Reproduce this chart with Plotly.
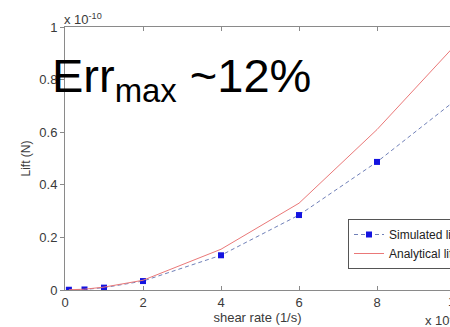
import plotly.graph_objects as go

# Shear rate (x 10^4 1/s) and lift force (x 10^-10 N)
shear_rate = [0.1, 0.5, 1, 2, 4, 6, 8, 10]
lift_simulated = [0.001, 0.002, 0.009, 0.034, 0.132, 0.285, 0.487, 0.72]
lift_analytical = [0.001, 0.003, 0.011, 0.037, 0.155, 0.33, 0.61, 0.93]

x_ticks = [0, 2, 4, 6, 8, 10]
y_ticks = [0, 0.2, 0.4, 0.6, 0.8, 1]
y_tick_text = ["0", "0.2", "0.4", "0.6", "0.8", "1"]

W, H = 450, 327
ML, MT, MB = 65, 27, 37
PLOT_W = W - ML
PLOT_H = H - MT - MB
X_PER_UNIT = 39.0


def px_x(px):
    return (px - ML) / PLOT_W


def px_y(py):
    return (H - MB - py) / PLOT_H


FONT = "Liberation Sans, Arial, sans-serif"
AXIS_GREY = "#8a8a8a"
TEXT_GREY = "#3a3a3a"

fig = go.Figure()
fig.add_trace(go.Scatter(
    x=shear_rate, y=lift_simulated, mode="lines+markers", name="Simulated lift",
    line=dict(color="#7080b8", width=1, dash="4px,3px"),
    marker=dict(symbol="square", size=6, color="#1414e0"),
))
fig.add_trace(go.Scatter(
    x=shear_rate, y=lift_analytical, mode="lines", name="Analytical lift",
    line=dict(color="#ea7878", width=1),
))

fig.update_layout(
    width=W, height=H,
    margin=dict(l=ML, r=0, t=MT, b=MB, autoexpand=False),
    paper_bgcolor="white", plot_bgcolor="white",
    font=dict(family=FONT, size=12, color=TEXT_GREY),
    showlegend=True,
    legend=dict(
        x=px_x(348), y=px_y(219), xanchor="left", yanchor="top",
        bgcolor="white", bordercolor="#555555", borderwidth=1,
        font=dict(family=FONT, size=12, color="#222222"),
        itemwidth=30, tracegroupgap=0,
    ),
    xaxis=dict(
        range=[0, PLOT_W / X_PER_UNIT], tickvals=x_ticks,
        ticks="inside", ticklen=4, tickcolor=AXIS_GREY,
        showline=True, linecolor=AXIS_GREY, linewidth=1, mirror="ticks",
        showgrid=False, zeroline=False,
        tickfont=dict(family=FONT, size=13, color=TEXT_GREY),
        title=dict(text="shear rate (1/s)", standoff=0,
                   font=dict(family=FONT, size=13, color=TEXT_GREY)),
    ),
    yaxis=dict(
        range=[0, 1], tickvals=y_ticks, ticktext=y_tick_text,
        ticks="outside", ticklen=4, tickcolor=AXIS_GREY,
        showline=True, linecolor=AXIS_GREY, linewidth=1,
        showgrid=False, zeroline=False,
        tickfont=dict(family=FONT, size=13, color=TEXT_GREY),
        title=dict(text="Lift (N)", standoff=6,
                   font=dict(family=FONT, size=12, color=TEXT_GREY)),
    ),
)

annotations = [
    # axis multipliers
    dict(text="x 10<sup>-10</sup>", x=px_x(62), y=px_y(19), xanchor="left", yanchor="middle",
         font=dict(family=FONT, size=13, color=TEXT_GREY)),
    dict(text="x 10<sup>4</sup>", x=px_x(423), y=px_y(320), xanchor="left", yanchor="middle",
         font=dict(family=FONT, size=13, color=TEXT_GREY)),
    # last x tick label sits at the right edge
    dict(text="10", x=px_x(ML + 10 * X_PER_UNIT), y=px_y(301), xanchor="center", yanchor="middle",
         font=dict(family=FONT, size=13, color=TEXT_GREY)),
    # maximum error callout
    dict(text="Err<sub>max</sub> ~12%", x=px_x(50), y=px_y(47), xanchor="left", yanchor="top",
         font=dict(family=FONT, size=47, color="black")),
]
for a in annotations:
    a.update(xref="paper", yref="paper", showarrow=False)
fig.update_layout(annotations=annotations)

fig.write_html("out.html")
